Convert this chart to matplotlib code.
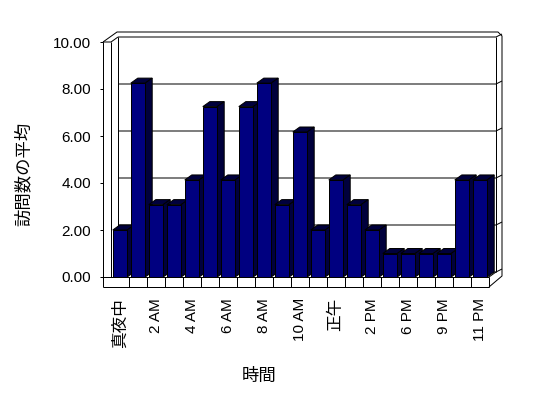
import numpy as np
import matplotlib
matplotlib.use("Agg")
import matplotlib.pyplot as plt
from matplotlib.patches import Polygon

# --- Data ---
hours = ["真夜中", "1 AM", "2 AM", "3 AM", "4 AM", "5 AM", "6 AM", "7 AM",
         "8 AM", "9 AM", "10 AM", "11 AM", "正午", "1 PM", "2 PM", "4 PM",
         "6 PM", "8 PM", "9 PM", "10 PM", "11 PM"]
visits = [2.0, 8.25, 3.08, 3.08, 4.13, 7.25, 4.13, 7.25, 8.25, 3.08, 6.17,
          2.0, 4.13, 3.08, 2.0, 1.0, 1.0, 1.0, 1.0, 4.13, 4.13]
yticks = [0, 2, 4, 6, 8, 10]

plt.rcParams["font.family"] = ["Liberation Sans", "Noto Sans CJK JP"]
CJK = ["Noto Sans CJK JP", "DejaVu Sans"]

W, H = 548, 398
fig = plt.figure(figsize=(W / 100, H / 100), dpi=100)
fig.patch.set_facecolor("white")

# front plane of the 3D box in pixels
L, R, TOP, BOT = 111, 489, 42, 277
ax = fig.add_axes([L / W, (H - BOT) / H, (R - L) / W, (BOT - TOP) / H])
ax.set_xlim(-0.5, len(hours) - 0.5)
ax.set_ylim(0, 10)
ax.patch.set_visible(False)
for s in ax.spines.values():
    s.set_visible(False)

px = 72 / 100  # points per pixel
ax.spines["left"].set_position(("outward", 8 * px))
ax.set_yticks(yticks)
ax.set_yticklabels([f"{v:.2f}" for v in yticks], fontsize=11)
ax.tick_params(axis="y", length=3 * px, width=1 * px, pad=9 * px, color="black")

x = np.arange(len(hours))
ax.set_xticks(x[::2])
ax.set_xticklabels(hours[::2], rotation=90, fontsize=11)
ax.tick_params(axis="x", length=0, pad=21 * px)
for t in ax.get_xticklabels():
    if not t.get_text()[0].isdigit():
        t.set_family(CJK)
        t.set_fontsize(12)

fig.canvas.draw()


def shift(xd, yd, ox, oy):
    p = ax.transData.transform((xd, yd))
    return ax.transData.inverted().transform((p[0] + ox, p[1] + oy))


def line(pts, z=1, lw=1.0):
    pts = np.array(pts)
    ax.plot(pts[:, 0], pts[:, 1], color="black", lw=lw * px * 1.0,
            clip_on=False, zorder=z, solid_capstyle="butt")


x0, x1 = -0.5, len(hours) - 0.5
DX, DY = 7, 5      # depth offset of inner walls
OX, OY = 13, 10    # outer edge of walls

# back wall, grid and side strip
for v in yticks:
    a = shift(x0, v, DX, DY)
    b = shift(x1, v, DX, DY)
    c = shift(x1, v, OX, OY - 2)
    line([a, b, c])
line([shift(x0, 0, DX, DY), shift(x0, 10, DX, DY)])
line([shift(x1, 0, DX, DY), shift(x1, 10, DX, DY)])

# left wall
line([shift(x0, 0, -8, -10), shift(x0, 10, -8, 0)])
line([shift(x0, 0, 0, 0), shift(x0, 10, 0, 0)])
line([shift(x0, 10, -8, 0), shift(x0, 10, 0, 0), shift(x0, 10, DX, DY)])
# outer contour
line([shift(x0, 10, -8, 0), shift(x0, 10, 6, OY), shift(x1, 10, OX - 4, OY),
      shift(x1, 10, OX, OY - 4), shift(x1, 0, OX, 1), shift(x1, 0, 0, -10)])

# floor slab front
line([shift(x0, 0, -8, -10), shift(x1, 0, 0, -10)])
line([shift(x0, 0, -8, 0), shift(x1, 0, 0, 0)])
for k in np.arange(0.5, len(hours), 1.0):
    line([shift(k, 0, 0, -10), shift(k, 0, 0, 0)])
line([shift(x1, 0, 0, 0), shift(x1, 0, DX, DY)])

# bars with fake depth
bw = 0.8
bars = ax.bar(x, visits, width=bw, color="#000080", edgecolor="black",
              linewidth=1 * px)
dark = "#00003c"
for i, (xi, v) in enumerate(zip(x, visits)):
    z = 3 + i * 0.01
    bars[i].set_zorder(z)
    a, b = xi - bw / 2, xi + bw / 2
    top = [(a, v), (b, v), shift(b, v, DX, DY), shift(a, v, DX, DY)]
    side = [(b, 0), (b, v), shift(b, v, DX, DY), shift(b, 0, DX, DY)]
    for poly in (top, side):
        ax.add_patch(Polygon(poly, closed=True, facecolor=dark,
                             edgecolor="black", lw=1 * px, zorder=z - 0.005,
                             clip_on=False))

fig.text(24 / W, 1 - 174 / H, "訪問数の平均", rotation=90, ha="center",
         va="center", fontsize=12.5, family=CJK)
fig.text(259 / W, 1 - 376 / H, "時間", ha="center", va="center",
         fontsize=12.5, family=CJK)

fig.savefig("out.png", dpi=100)
